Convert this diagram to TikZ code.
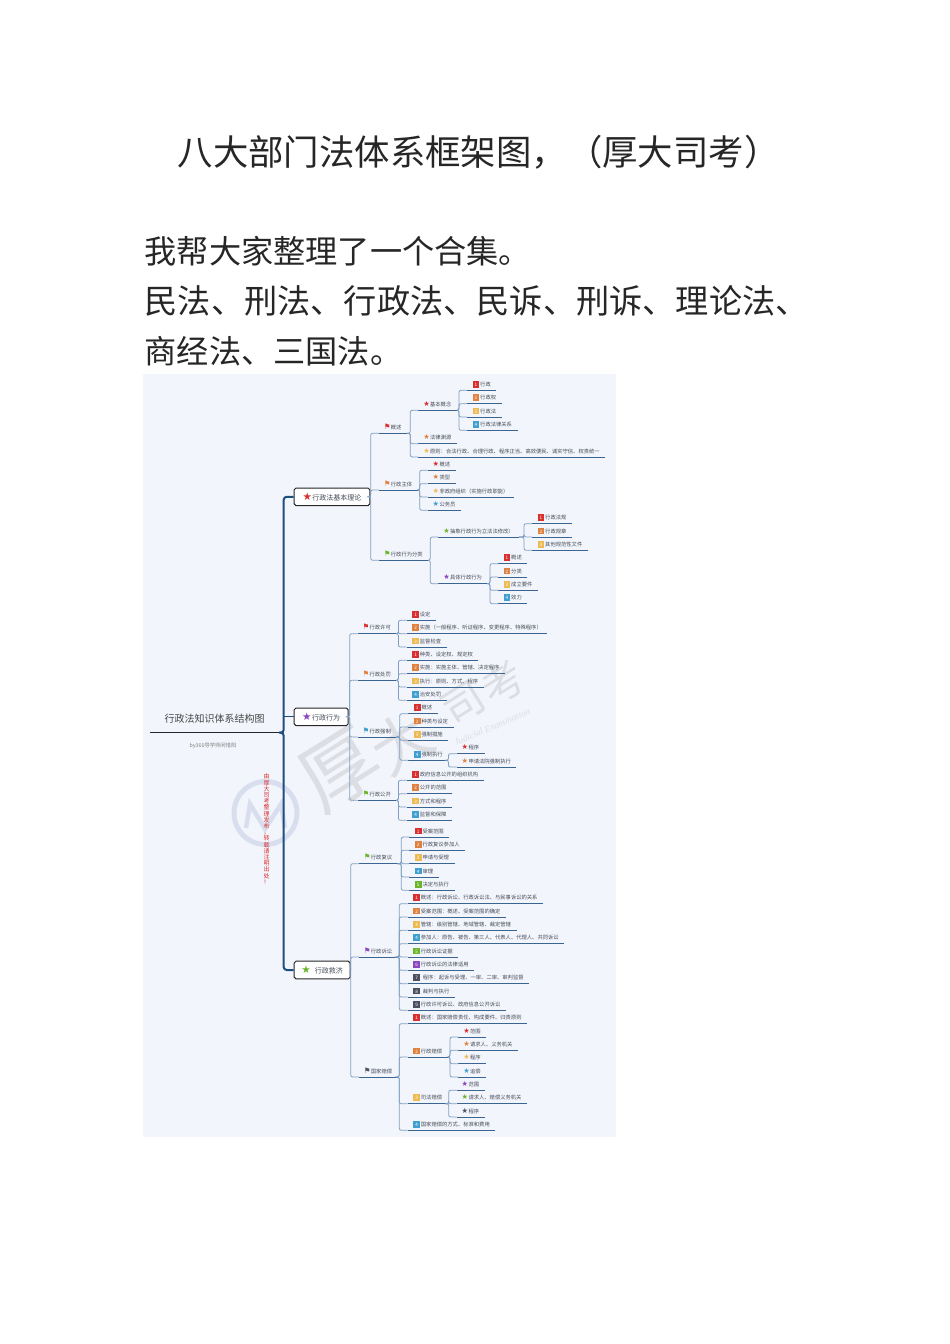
\documentclass[tikz,border=0pt]{standalone}
\usepackage{fontspec}
\setmainfont{Noto Sans CJK SC}
\newfontfamily\markfont{DejaVu Sans}
\newfontfamily\wmfont{Liberation Serif}
\usepackage{xcolor}
\usetikzlibrary{calc,positioning}
\definecolor{panel}{HTML}{F3F5FC}
\definecolor{ink}{HTML}{454C58}
\definecolor{headink}{HTML}{262626}
\definecolor{navyline}{HTML}{1C4F80}
\definecolor{branchline}{HTML}{7F9FC0}
\definecolor{underline}{HTML}{3A6491}
\definecolor{wmring}{HTML}{D8DEEE}
\definecolor{wmgrey}{HTML}{DCDEE3}
\definecolor{tagred}{HTML}{D92F2F}
\definecolor{tagorange}{HTML}{E0813F}
\definecolor{tagyellow}{HTML}{EDBB52}
\definecolor{tagblue}{HTML}{3F9FD0}
\definecolor{taggreen}{HTML}{6BB52B}
\definecolor{tagpurple}{HTML}{8A45C0}
\definecolor{tagdark}{HTML}{4A5060}
\newcommand{\numtag}[2]{{\fboxsep=0pt\colorbox{#1}{\makebox[6.7pt]{\rule[-1pt]{0pt}{6.7pt}\color{white}\fontsize{4.6}{5}\selectfont #2}}}\hspace{1pt}}
\newcommand{\startag}[1]{\makebox[5.5pt]{\color{#1}\markfont\fontsize{7.2}{6}\selectfont ★}\hspace{0.8pt}}
\newcommand{\flagtag}[1]{\makebox[5.8pt]{\color{#1}\markfont\fontsize{7.6}{6}\selectfont ⚑}\hspace{0.6pt}}

\begin{document}
\begin{tikzpicture}[
  x=1pt, y=-1pt,
  topic/.style={
    anchor=south west, inner xsep=5.3pt, inner ysep=0pt,
    minimum height=11.4pt, text height=4.8pt, text depth=0.6pt,
    font=\fontsize{5.3}{6}\selectfont, text=ink,
    append after command={(\tikzlastnode.south west) edge[underln] (\tikzlastnode.south east)},
  },
  underln/.style={draw=underline, line width=1pt},
  mainbox/.style={
    rectangle, rounded corners=1.8pt, draw=headink, line width=1pt, fill=white,
    anchor=west, minimum height=17.6pt, inner sep=0pt,
    font=\fontsize{7}{8}\selectfont, text=ink,
  },
  branch/.style={draw=branchline, line width=0.8pt, rounded corners=2pt},
  trunk/.style={draw=navyline, line width=2pt, rounded corners=3pt},
]
\useasboundingbox (0,0) rectangle (950,1344);

% Heading
\node[font=\fontsize{35.4}{40}\selectfont, text=headink] (head) at (478.5,152) {八大部门法体系框架图，（厚大司考）};
\node[anchor=west, inner sep=0pt, align=left, font=\fontsize{32.2}{50}\selectfont, text=headink] (intro) at (144.5,301) {我帮大家整理了一个合集。\\{\fontsize{33.2}{50}\selectfont 民法、刑法、行政法、民诉、刑诉、理论法、}\\商经法、三国法。};

% Panel and watermark
\fill[panel] (143,374) rectangle (616,1137);
\draw[wmring, line width=5pt] (265.5,813) circle (31.5);
\draw[wmring, line width=4.5pt] (246,828) -- (250,804) -- (265,829) -- (281,804) -- (285,828);
\node[rotate=32, text=wmgrey, font=\fontsize{78}{80}\selectfont] (wm1) at (340,770) {厚};
\node[rotate=32, text=wmgrey, font=\fontsize{60}{62}\selectfont] (wm2) at (402,742) {大};
\node[rotate=32, text=wmgrey, font=\fontsize{42}{44}\selectfont] (wm3) at (463,704) {司};
\node[rotate=32, text=wmgrey, font=\fontsize{42}{44}\selectfont] (wm4) at (503,683) {考};
\node[rotate=23, text=wmgrey, font=\wmfont\itshape\fontsize{9.5}{10}\selectfont] (wm5) at (492,727) {Judicial Examination};

% Title
\node[anchor=south west, minimum width=129pt, minimum height=27.4pt, inner sep=0pt, text=headink!85, font=\fontsize{10}{12}\selectfont] (t0) at (150,732.7) {行政法知识体系结构图};
\draw[draw=headink, line width=1.5pt] (t0.south west) -- (t0.south east);
\node[text=gray, font=\fontsize{5.3}{6}\selectfont] (t0by) at (213,746) {by360导学师闲惜阳};
\node[align=center, inner sep=0pt, text=tagred, font=\fontsize{6}{6.2}\selectfont] (t0red) at (266.7,829) {由\\厚\\大\\司\\考\\整\\理\\发\\布\\，\\转\\载\\请\\注\\明\\出\\处\\！};

% Main boxes
\node[mainbox, minimum width=75.6pt] (b1) at (293.7,496.8) {{\color{tagred}\markfont\fontsize{10.5}{8}\selectfont ★}\hspace{0.5pt}行政法基本理论};
\node[mainbox, minimum width=54pt] (b2) at (293.7,716.8) {{\color{tagpurple}\markfont\fontsize{10.5}{8}\selectfont ★}\hspace{0.5pt}行政行为};
\node[mainbox, minimum width=56pt] (b3) at (293.7,970) {{\color{taggreen}\markfont\fontsize{10.5}{8}\selectfont ★}\hspace{4pt}行政救济};

\draw[trunk] (t0.south east) -- ++(4.3,0) |- (b1.west);
\draw[trunk] (t0.south east) -- ++(4.3,0) |- (b3.west);
\draw[draw=navyline, line width=0.8pt] (t0.south east) -- ++(4.3,0) |- (b2.west);

% Group 1
\node[topic] (b1a) at (379,433.3) {\flagtag{tagred}概述};
\node[topic] (b1b) at (379,490) {\flagtag{tagorange}行政主体};
\node[topic] (b1c) at (379,560.3) {\flagtag{taggreen}行政行为分类};

\node[topic] (b1a1) at (418.3,410.3) {\startag{tagred}基本概念};
\node[topic] (b1a2) at (418.3,443.7) {\startag{tagorange}法律渊源};
\node[topic] (b1a3) at (418.3,457) {\startag{tagyellow}原则：合法行政、合理行政、程序正当、高效便民、诚实守信、权责统一};

\node[topic] (b1a1a) at (467,390.3) {\numtag{tagred}{1}行政};
\node[topic] (b1a1b) at (467,403.7) {\numtag{tagorange}{2}行政权};
\node[topic] (b1a1c) at (467,417) {\numtag{tagyellow}{3}行政法};
\node[topic] (b1a1d) at (467,430.3) {\numtag{tagblue}{4}行政法律关系};

\node[topic] (b1b1) at (427.7,470.3) {\startag{tagred}概述};
\node[topic] (b1b2) at (427.7,483.7) {\startag{tagorange}类型};
\node[topic] (b1b3) at (427.7,497) {\startag{tagyellow}非政府组织（实施行政职能）};
\node[topic] (b1b4) at (427.7,510.3) {\startag{tagblue}公务员};

\node[topic] (b1c1) at (438.3,537) {\startag{taggreen}抽象行政行为立法法修改）};
\node[topic] (b1c2) at (438.3,583.7) {\startag{tagpurple}具体行政行为};

\node[topic] (b1c1a) at (532,523.7) {\numtag{tagred}{1}行政法规};
\node[topic] (b1c1b) at (532,537) {\numtag{tagorange}{2}行政规章};
\node[topic] (b1c1c) at (532,550.3) {\numtag{tagyellow}{3}其他规范性文件};

\node[topic] (b1c2a) at (498,563.7) {\numtag{tagred}{1}概述};
\node[topic] (b1c2b) at (498,577) {\numtag{tagorange}{2}分类};
\node[topic] (b1c2c) at (498,590.3) {\numtag{tagyellow}{3}成立要件};
\node[topic] (b1c2d) at (498,603.7) {\numtag{tagblue}{4}效力};

\foreach \kid in {b1a,b1b,b1c}
  \draw[branch] (b1.east) -| ([xshift=-8.3pt]\kid.south west) -- (\kid.south west);
\foreach \kid in {b1a1,b1a2,b1a3}
  \draw[branch] (b1a.south east) -| ([xshift=-8pt]\kid.south west) -- (\kid.south west);
\foreach \kid in {b1a1a,b1a1b,b1a1c,b1a1d}
  \draw[branch] (b1a1.south east) -| ([xshift=-8pt]\kid.south west) -- (\kid.south west);
\foreach \kid in {b1b1,b1b2,b1b3,b1b4}
  \draw[branch] (b1b.south east) -| ([xshift=-8pt]\kid.south west) -- (\kid.south west);
\foreach \kid in {b1c1,b1c2}
  \draw[branch] (b1c.south east) -| ([xshift=-8pt]\kid.south west) -- (\kid.south west);
\foreach \kid in {b1c1a,b1c1b,b1c1c}
  \draw[branch] (b1c1.south east) -| ([xshift=-8pt]\kid.south west) -- (\kid.south west);
\foreach \kid in {b1c2a,b1c2b,b1c2c,b1c2d}
  \draw[branch] (b1c2.south east) -| ([xshift=-8pt]\kid.south west) -- (\kid.south west);

% Group 2
\node[topic] (b2a) at (357.7,633.7) {\flagtag{tagred}行政许可};
\node[topic] (b2b) at (357.7,680.3) {\flagtag{tagorange}行政处罚};
\node[topic] (b2c) at (357.7,737) {\flagtag{tagblue}行政强制};
\node[topic] (b2d) at (357.7,800.3) {\flagtag{taggreen}行政公开};

\node[topic] (b2a1) at (406.7,620.3) {\numtag{tagred}{1}设定};
\node[topic] (b2a2) at (406.7,633.7) {\numtag{tagorange}{2}实施（一般程序、听证程序、变更程序、特殊程序）};
\node[topic] (b2a3) at (406.7,647) {\numtag{tagyellow}{3}监督检查};

\node[topic] (b2b1) at (406.7,660.3) {\numtag{tagred}{1}种类、设定权、规定权};
\node[topic] (b2b2) at (406.7,673.7) {\numtag{tagorange}{2}实施：实施主体、管辖、决定程序};
\node[topic] (b2b3) at (406.7,687) {\numtag{tagyellow}{3}执行：原则、方式、程序};
\node[topic] (b2b4) at (406.7,700.3) {\numtag{tagblue}{4}治安处罚};

\node[topic] (b2c1) at (408.3,713.7) {\numtag{tagred}{1}概述};
\node[topic] (b2c2) at (408.3,727) {\numtag{tagorange}{2}种类与设定};
\node[topic] (b2c3) at (408.3,740.3) {\numtag{tagyellow}{3}强制措施};
\node[topic] (b2c4) at (408.3,760.3) {\numtag{tagblue}{4}强制执行};
\node[topic] (b2c4a) at (456.7,753.7) {\startag{tagred}程序};
\node[topic] (b2c4b) at (456.7,767) {\startag{tagorange}申请法院强制执行};

\node[topic] (b2d1) at (406.7,780.3) {\numtag{tagred}{1}政府信息公开的组织机构};
\node[topic] (b2d2) at (406.7,793.7) {\numtag{tagorange}{2}公开的范围};
\node[topic] (b2d3) at (406.7,807) {\numtag{tagyellow}{3}方式和程序};
\node[topic] (b2d4) at (406.7,820.3) {\numtag{tagblue}{4}监督和保障};

\foreach \kid in {b2a,b2b,b2c,b2d}
  \draw[branch] (b2.east) -| ([xshift=-8pt]\kid.south west) -- (\kid.south west);
\foreach \kid in {b2a1,b2a2,b2a3}
  \draw[branch] (b2a.south east) -| ([xshift=-8.3pt]\kid.south west) -- (\kid.south west);
\foreach \kid in {b2b1,b2b2,b2b3,b2b4}
  \draw[branch] (b2b.south east) -| ([xshift=-8.3pt]\kid.south west) -- (\kid.south west);
\foreach \kid in {b2c1,b2c2,b2c3,b2c4}
  \draw[branch] (b2c.south east) -| ([xshift=-8.6pt]\kid.south west) -- (\kid.south west);
\foreach \kid in {b2c4a,b2c4b}
  \draw[branch] (b2c4.south east) -| ([xshift=-8.3pt]\kid.south west) -- (\kid.south west);
\foreach \kid in {b2d1,b2d2,b2d3,b2d4}
  \draw[branch] (b2d.south east) -| ([xshift=-8.3pt]\kid.south west) -- (\kid.south west);

% Group 3
\node[topic] (b3a) at (359,863.7) {\flagtag{taggreen}行政复议};
\node[topic] (b3b) at (359,957) {\flagtag{tagpurple}行政诉讼};
\node[topic] (b3c) at (359,1077) {\flagtag{tagdark}国家赔偿};

\node[topic] (b3a1) at (409.3,837) {\numtag{tagred}{1}受案范围};
\node[topic] (b3a2) at (409.3,850.3) {\numtag{tagorange}{2}行政复议参加人};
\node[topic] (b3a3) at (409.3,863.7) {\numtag{tagyellow}{3}申请与受理};
\node[topic] (b3a4) at (409.3,877) {\numtag{tagblue}{4}审理};
\node[topic] (b3a5) at (409.3,890.3) {\numtag{taggreen}{5}决定与执行};

\node[topic] (b3b1) at (407.7,903.7) {\numtag{tagred}{1}概述：行政诉讼、行政诉讼法、与民事诉讼的关系};
\node[topic] (b3b2) at (407.7,917) {\numtag{tagorange}{2}受案范围：概述、受案范围的确定};
\node[topic] (b3b3) at (407.7,930.3) {\numtag{tagyellow}{3}管辖：级别管辖、地域管辖、裁定管辖};
\node[topic] (b3b4) at (407.7,943.7) {\numtag{tagblue}{4}参加人：原告、被告、第三人、代表人、代理人、共同诉讼};
\node[topic] (b3b5) at (407.7,957) {\numtag{taggreen}{5}行政诉讼证据};
\node[topic] (b3b6) at (407.7,970.3) {\numtag{tagpurple}{6}行政诉讼的法律适用};
\node[topic] (b3b7) at (407.7,983.7) {\numtag{tagdark}{7}\hspace{2pt}程序：起诉与受理、一审、二审、审判监督};
\node[topic] (b3b8) at (407.7,997) {\numtag{tagdark}{8}\hspace{2pt}裁判与执行};
\node[topic] (b3b9) at (407.7,1010.3) {\numtag{tagdark}{9}行政许可诉讼、政府信息公开诉讼};

\node[topic] (b3c1) at (407.7,1023.7) {\numtag{tagred}{1}概述：国家赔偿责任、构成要件、归责原则};
\node[topic] (b3c2) at (407.7,1057) {\numtag{tagorange}{2}行政赔偿};
\node[topic] (b3c3) at (407.7,1103.7) {\numtag{tagyellow}{3}司法赔偿};
\node[topic] (b3c4) at (407.7,1130.3) {\numtag{tagblue}{4}国家赔偿的方式、标准和费用};

\node[topic] (b3c2a) at (458.3,1037) {\startag{tagred}范围};
\node[topic] (b3c2b) at (458.3,1050.3) {\startag{tagorange}请求人、义务机关};
\node[topic] (b3c2c) at (458.3,1063.7) {\startag{tagyellow}程序};
\node[topic] (b3c2d) at (458.3,1077) {\startag{tagblue}追偿};

\node[topic] (b3c3a) at (456.7,1090.3) {\startag{tagpurple}范围};
\node[topic] (b3c3b) at (456.7,1103.7) {\startag{taggreen}请求人、赔偿义务机关};
\node[topic] (b3c3c) at (456.7,1117) {\startag{tagdark}程序};

\foreach \kid in {b3a,b3b,b3c}
  \draw[branch] (b3.east) -| ([xshift=-8.3pt]\kid.south west) -- (\kid.south west);
\foreach \kid in {b3a1,b3a2,b3a3,b3a4,b3a5}
  \draw[branch] (b3a.south east) -| ([xshift=-8pt]\kid.south west) -- (\kid.south west);
\foreach \kid in {b3b1,b3b2,b3b3,b3b4,b3b5,b3b6,b3b7,b3b8,b3b9}
  \draw[branch] (b3b.south east) -| ([xshift=-8.4pt]\kid.south west) -- (\kid.south west);
\foreach \kid in {b3c1,b3c2,b3c3,b3c4}
  \draw[branch] (b3c.south east) -| ([xshift=-8.4pt]\kid.south west) -- (\kid.south west);
\foreach \kid in {b3c2a,b3c2b,b3c2c,b3c2d}
  \draw[branch] (b3c2.south east) -| ([xshift=-8.3pt]\kid.south west) -- (\kid.south west);
\foreach \kid in {b3c3a,b3c3b,b3c3c}
  \draw[branch] (b3c3.south east) -| ([xshift=-8pt]\kid.south west) -- (\kid.south west);

\end{tikzpicture}
\end{document}
